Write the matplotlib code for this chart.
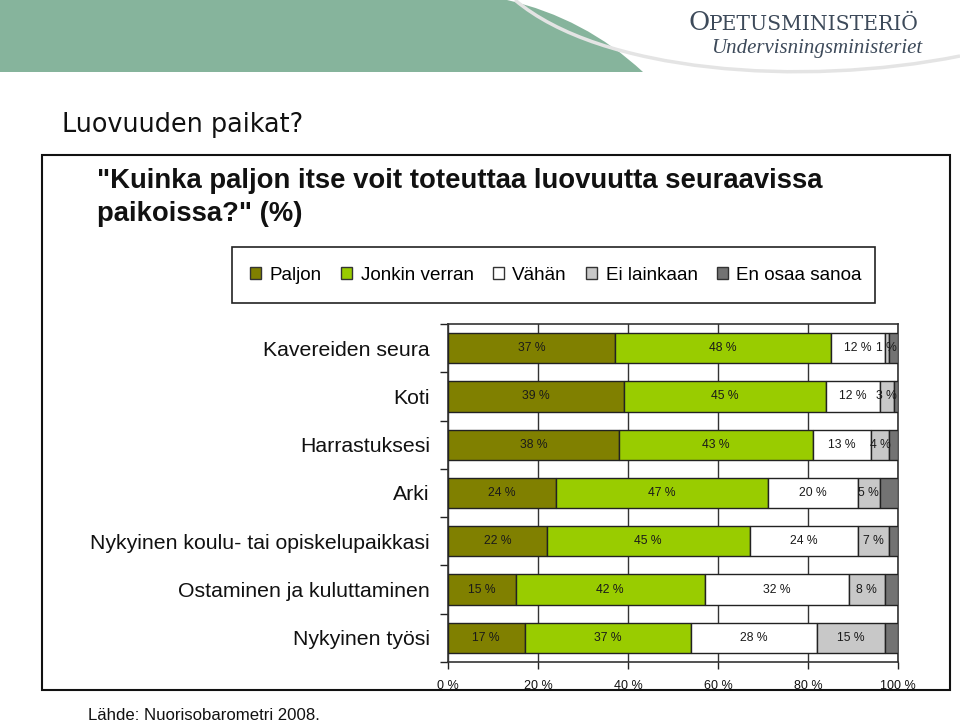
import matplotlib
matplotlib.use("Agg")
import matplotlib.pyplot as plt
from matplotlib.patches import Patch, Rectangle, PathPatch
from matplotlib.path import Path
import numpy as np

plt.rcParams['font.family'] = ['Liberation Sans', 'DejaVu Sans']

# data (percent)
categories = ['Kavereiden seura', 'Koti', 'Harrastuksesi', 'Arki',
              'Nykyinen koulu- tai opiskelupaikkasi',
              'Ostaminen ja kuluttaminen', 'Nykyinen työsi']
series_names = ['Paljon', 'Jonkin verran', 'Vähän', 'Ei lainkaan', 'En osaa sanoa']
paljon = [37, 39, 38, 24, 22, 15, 17]
jonkin_verran = [48, 45, 43, 47, 45, 42, 37]
vahan = [12, 12, 13, 20, 24, 32, 28]
ei_lainkaan = [1, 3, 4, 5, 7, 8, 15]
en_osaa_sanoa = [2, 1, 2, 4, 2, 3, 3]
x_ticks = [0, 20, 40, 60, 80, 100]

colors = ['#808000', '#99CC00', '#FFFFFF', '#C8C8C8', '#737373']
show_labels = [True, True, True, True, False]

W, H = 960, 725


def fx(x):
    return x / W


def fy(y):
    return 1 - y / H


fig = plt.figure(figsize=(9.6, 7.25), dpi=100)

# --- banner at the top ---
verts = [(fx(0), fy(0)), (fx(507), fy(0)), (fx(585), fy(18)), (fx(643), fy(72)),
         (fx(0), fy(72)), (fx(0), fy(0))]
codes = [Path.MOVETO, Path.LINETO, Path.CURVE3, Path.CURVE3, Path.LINETO, Path.CLOSEPOLY]
fig.patches.append(PathPatch(Path(verts, codes), transform=fig.transFigure,
                             facecolor='#86B49C', edgecolor='none'))
swoosh = Path([(fx(515), fy(0)), (fx(600), fy(72)), (fx(800), fy(88)), (fx(960), fy(56))],
              [Path.MOVETO, Path.CURVE4, Path.CURVE4, Path.CURVE4])
fig.patches.append(PathPatch(swoosh, transform=fig.transFigure, facecolor='none',
                             edgecolor='#E4E4E4', lw=2.5))
fig.text(fx(688), fy(23), 'O', fontsize=18.5, family='DejaVu Serif',
         color='#3D4A5A', va='center', ha='left')
fig.text(fx(709), fy(24.5), 'PETUSMINISTERIÖ', fontsize=14.6, family='DejaVu Serif',
         color='#3D4A5A', va='center', ha='left')
fig.text(fx(922), fy(48), 'Undervisningsministeriet', fontsize=15, family='Liberation Serif',
         style='italic', color='#3D4A5A', va='center', ha='right')

# --- slide title ---
fig.text(fx(62), fy(125), 'Luovuuden paikat?', fontsize=18.4, family='DejaVu Sans',
         color='#111111', va='center', ha='left')

# frame round the chart
fig.patches.append(Rectangle((fx(42), fy(690)), fx(908), 535 / H, transform=fig.transFigure,
                             facecolor='none', edgecolor='#111111', lw=1.5))

fig.text(fx(97), fy(181), '"Kuinka paljon itse voit toteuttaa luovuutta seuraavissa',
         fontsize=19.85, fontweight='bold', color='#111111', va='center', ha='left')
fig.text(fx(97), fy(214), 'paikoissa?" (%)',
         fontsize=19.85, fontweight='bold', color='#111111', va='center', ha='left')

# legend box
fig.patches.append(Rectangle((fx(232), fy(303)), fx(643), 56 / H, transform=fig.transFigure,
                             facecolor='none', edgecolor='#222222', lw=1.2))
handles = [Patch(facecolor=c, edgecolor='#333333', lw=1) for c in colors]
fig.legend(handles, series_names, loc='center', bbox_to_anchor=(fx(556), fy(275)),
           ncol=5, frameon=False, fontsize=13.6, handlelength=0.6, handleheight=0.6,
           handletextpad=0.45, columnspacing=1.0, borderpad=0)

# --- stacked bar chart ---
ax = fig.add_axes([fx(448), fy(662), 450 / W, 338 / H])
data = np.array([paljon, jonkin_verran, vahan, ei_lainkaan, en_osaa_sanoa], dtype=float)
y = np.arange(len(categories))
left = np.zeros(len(categories))
for i, vals in enumerate(data):
    ax.barh(y, vals, left=left, height=0.63, color=colors[i],
            edgecolor='#222222', lw=1, zorder=3)
    if show_labels[i]:
        for yy, l, v in zip(y, left, vals):
            ax.text(l + v / 2, yy, f'{int(v)} %', ha='center', va='center',
                    fontsize=8.7, color='#1A1A1A', zorder=4)
    left += vals

ax.set_xlim(0, 100)
ax.set_ylim(len(categories) - 0.5, -0.5)
ax.set_xticks(x_ticks)
ax.set_xticklabels([f'{t} %' for t in x_ticks], fontsize=9, color='#111111')
ax.set_yticks(y)
ax.set_yticklabels(categories, fontsize=15.3, color='#111111')
ax.set_yticks(np.arange(-0.5, len(categories)), minor=True)
ax.tick_params(axis='y', which='major', length=0, pad=13)
ax.tick_params(axis='y', which='minor', length=6, width=1, color='#222222', direction='out')
ax.tick_params(axis='x', length=5, width=1, color='#222222', direction='out', pad=8)
ax.xaxis.grid(True, color='#333333', lw=1)
ax.set_axisbelow(True)
for s in ax.spines.values():
    s.set_color('#333333')
    s.set_linewidth(1.2)

fig.text(fx(88), fy(716), 'Lähde: Nuorisobarometri 2008.', fontsize=12.1,
         color='#111111', va='center', ha='left')

fig.savefig('out.png', dpi=100)
